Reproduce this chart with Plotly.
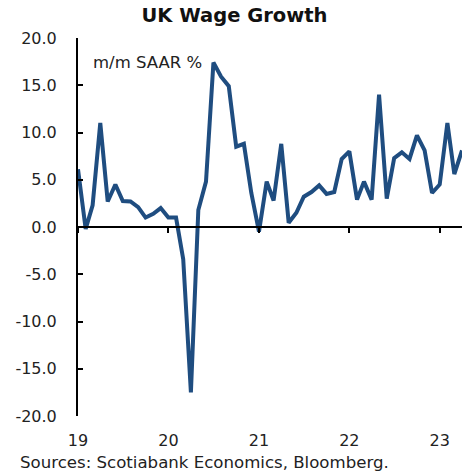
import pandas as pd
import plotly.graph_objects as go

# Monthly m/m SAAR % UK wage growth, Jan 2019 - Apr 2023
months = pd.date_range("2019-01-01", "2023-04-01", freq="MS")
wage_growth = [
    6.1, -0.2, 2.3, 11.0, 2.7, 4.5, 2.75, 2.7, 2.1, 1.0, 1.4, 2.0,
    1.0, 1.0, -3.4, -17.5, 1.8, 4.8, 17.4, 15.9, 14.9, 8.5, 8.8, 3.6,
    -0.5, 4.8, 2.8, 8.8, 0.45, 1.5, 3.2, 3.7, 4.4, 3.5, 3.7, 7.2,
    8.0, 2.9, 4.8, 2.9, 14.0, 3.0, 7.3, 7.9, 7.2, 9.7, 8.1, 3.6,
    4.5, 11.0, 5.6, 8.1,
]
year_ticks = ["2019-01-01", "2020-01-01", "2021-01-01", "2022-01-01", "2023-01-01"]
year_labels = ["19", "20", "21", "22", "23"]
y_ticks = [20, 15, 10, 5, 0, -5, -10, -15, -20]
y_labels = ["20.0", "15.0", "10.0", "5.0", "0.0", "-5.0", "-10.0", "-15.0", "-20.0"]

FONT = "DejaVu Sans"
LINE_COLOR = "#1f4d80"
TEXT = "#222222"

fig = go.Figure()
fig.add_trace(go.Scatter(
    x=months, y=wage_growth, mode="lines",
    line=dict(color=LINE_COLOR, width=4), xaxis="x2", yaxis="y",
    showlegend=False, hoverinfo="skip",
))
fig.add_trace(go.Scatter(
    x=months, y=wage_growth, mode="lines",
    line=dict(color="rgba(0,0,0,0)", width=0), xaxis="x", yaxis="y",
    showlegend=False, hoverinfo="skip",
))

x_range = [months[0], months[-1]]

fig.update_layout(
    width=469, height=475,
    margin=dict(l=78, r=7, t=38, b=59),
    paper_bgcolor="white", plot_bgcolor="white",
    font=dict(family=FONT, size=16, color=TEXT),
    title=dict(text="<b>UK Wage Growth</b>", x=0.5, xref="container", xanchor="center",
               y=1 - 15 / 475, yref="container", yanchor="middle",
               font=dict(family=FONT, size=19.5, color="#111111")),
    xaxis=dict(
        range=x_range, showgrid=False, zeroline=False, showline=False, ticks="",
        tickvals=year_ticks, ticktext=year_labels, tickfont=dict(size=16, color=TEXT),
        ticklabelstandoff=13,
    ),
    xaxis2=dict(
        range=x_range, overlaying="x", anchor="free", position=0.5, side="bottom",
        showgrid=False, zeroline=False, showline=True, linecolor="black", linewidth=2,
        ticks="outside", ticklen=5, tickwidth=2, tickcolor="black",
        tickvals=year_ticks, showticklabels=False,
    ),
    yaxis=dict(
        range=[-20, 20], showgrid=False, zeroline=False, showline=True,
        linecolor="black", linewidth=2, ticks="inside", ticklen=5, tickwidth=2,
        tickcolor="black", tickvals=y_ticks, ticktext=y_labels,
        tickfont=dict(size=16, color=TEXT), ticklabelstandoff=16,
    ),
    annotations=[
        dict(text="m/m SAAR %", xref="paper", yref="paper", x=13 / 384, y=(416 - 62) / 378,
             xanchor="left", yanchor="middle", showarrow=False,
             font=dict(family=FONT, size=16.5, color=TEXT)),
        dict(text="Sources: Scotiabank Economics, Bloomberg.", xref="paper", yref="paper",
             x=-60 / 384, y=(416 - 462) / 378, xanchor="left", yanchor="middle",
             showarrow=False, font=dict(family=FONT, size=16.6, color=TEXT)),
    ],
)

fig.write_html("out.html")
